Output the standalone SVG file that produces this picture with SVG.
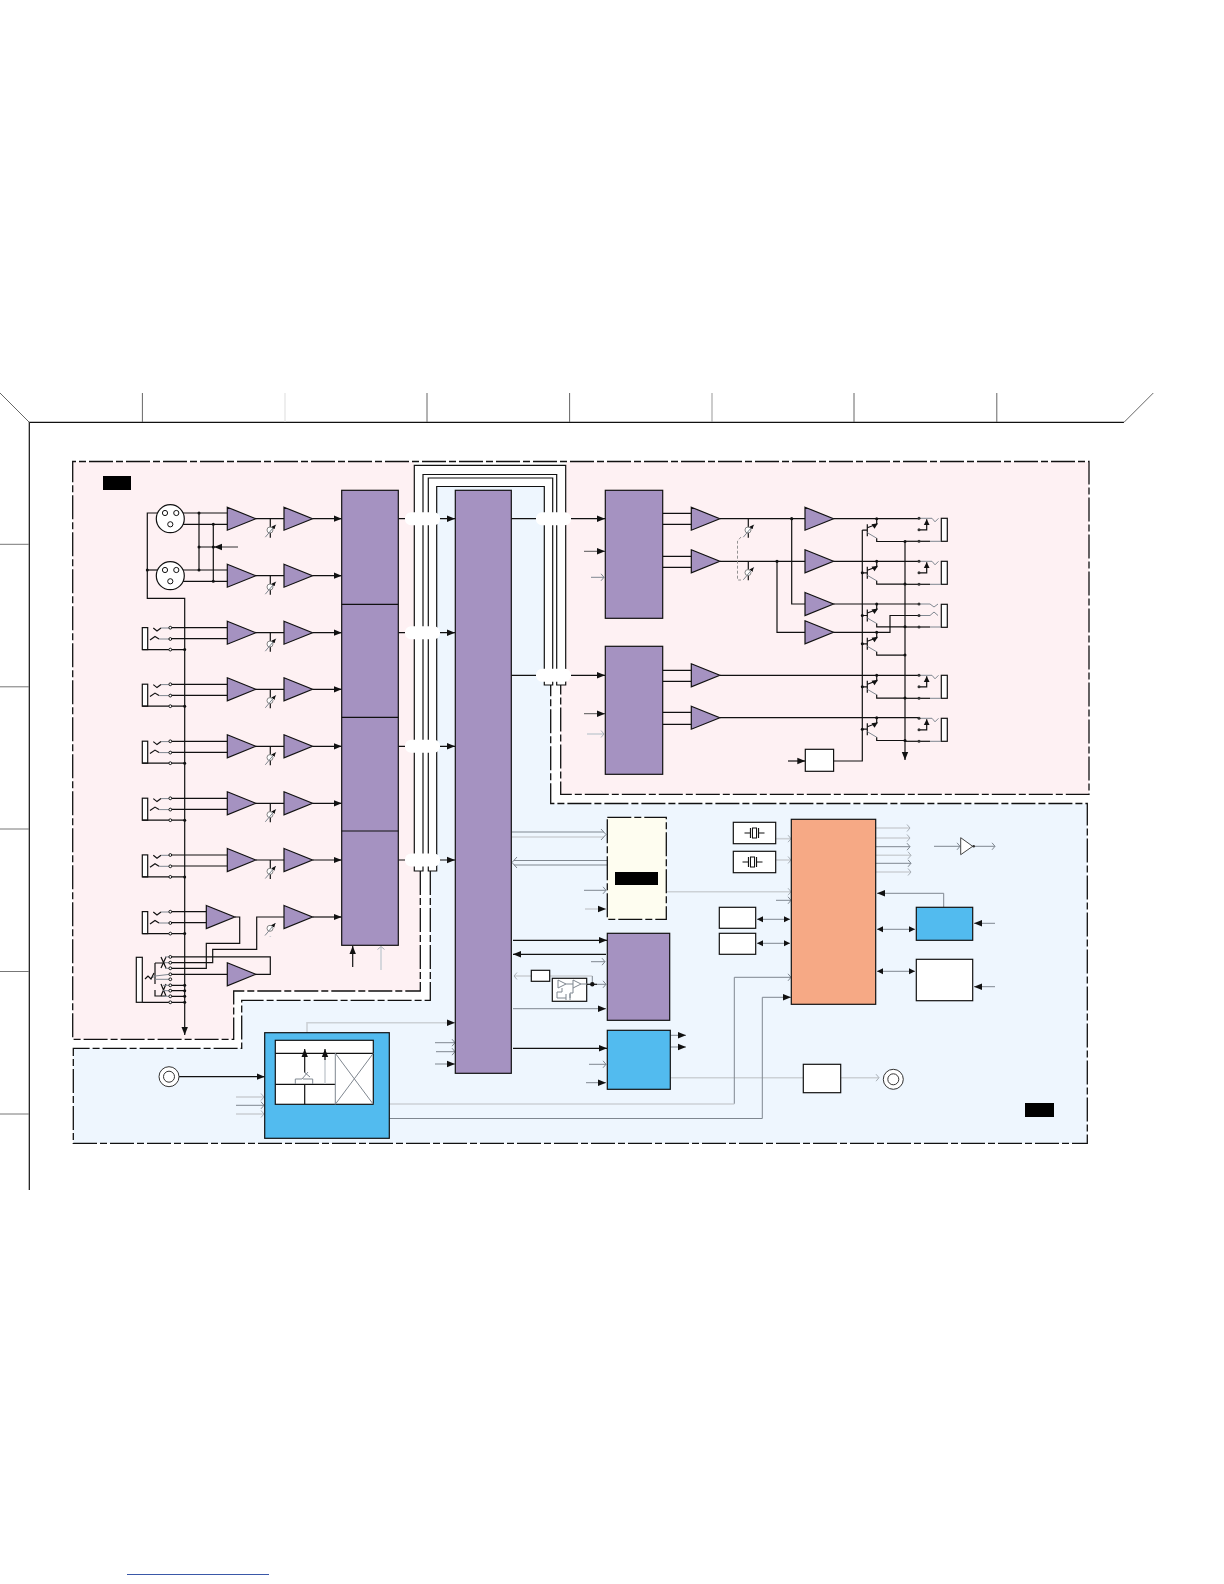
<svg xmlns="http://www.w3.org/2000/svg" xmlns:xlink="http://www.w3.org/1999/xlink" width="1224" height="1584" viewBox="0 0 1224 1584">
<style>
.w{fill:none;stroke:#111;stroke-width:1.2}
.g{fill:none;stroke:#7f8790;stroke-width:1}
.l{fill:none;stroke:#ccd1d6;stroke-width:1.6}
.d{fill:none;stroke:#111;stroke-width:1.3;stroke-dasharray:24 3 7 3}
.p{fill:#a592c1;stroke:#111;stroke-width:1.2}
.b{fill:#52bbef;stroke:#111;stroke-width:1.2}
.o{fill:#f6a985;stroke:#111;stroke-width:1.2}
.n{fill:#fff;stroke:#111;stroke-width:1.2}
.k{fill:#000}
.pin{fill:#fff;stroke:#111;stroke-width:1}
.gw{fill:#fff;stroke:#777;stroke-width:.9}
</style>
<defs>
<marker id="f" markerUnits="userSpaceOnUse" markerWidth="10" markerHeight="8" refX="8" refY="4" orient="auto"><path d="M0,.8 L8,4 L0,7.2 Z" fill="#111"/></marker>
<marker id="fs" markerUnits="userSpaceOnUse" markerWidth="8" markerHeight="8" refX="6" refY="4" orient="auto-start-reverse"><path d="M0,1 L6,4 L0,7 Z" fill="#111"/></marker>
<marker id="fp" markerUnits="userSpaceOnUse" markerWidth="6" markerHeight="6" refX="4.5" refY="3" orient="auto"><path d="M0,1 L4.5,3 L0,5 Z" fill="#111"/></marker>
<marker id="og" markerUnits="userSpaceOnUse" markerWidth="6" markerHeight="10" refX="4" refY="5" orient="auto-start-reverse"><path d="M1,1.5 L4,5 L1,8.5" fill="none" stroke="#7f8790"/></marker>
<marker id="ol" markerUnits="userSpaceOnUse" markerWidth="6" markerHeight="10" refX="4" refY="5" orient="auto-start-reverse"><path d="M1,1.5 L4,5 L1,8.5" fill="none" stroke="#a9b0b7"/></marker>
<polygon id="amp" class="p" points="0,-11.5 28.5,0 0,11.5"/>
<g id="pot"><path class="w" d="M0,0 V19" stroke-width="1"/><circle class="gw" cx="-.3" cy="11.3" r="3"/><path class="g" d="M-5,18.5 L5.5,6" marker-end="url(#fp)"/></g>
<g id="jack"><rect class="n" x="142.3" y="-5.4" width="5.4" height="22"/><path class="w" d="M142.3,16.6 H184.7"/><path class="w" d="M153.3,-5 L157,-2 L161,-5"/><path class="g" d="M161,-5 H170"/><path class="w" d="M150,7 L155,3.5 L159,6"/><path class="g" d="M159,6 H170"/><circle class="pin" cx="170.3" cy="-5.3" r="1.4"/><circle class="pin" cx="170.3" cy="6" r="1.4"/><circle class="pin" cx="170.3" cy="16.6" r="1.4"/><circle cx="184.7" cy="16.6" r="1.5" fill="#111"/></g>
<g id="ojack"><rect class="n" x="941.3" y="0" width="6" height="23"/><path class="w" d="M905,23 H930"/><path class="g" d="M930,23 H941"/><path class="g" d="M919,0 H932 L935,3.5 L938.5,0"/><path class="w" d="M919,11.5 H926.7 V1" marker-end="url(#fs)"/><circle cx="919" cy="0" r="1.5" fill="#333"/><circle cx="919" cy="11.5" r="1.5" fill="#333"/><circle cx="919" cy="23" r="1.5" fill="#333"/></g>
<g id="q"><circle cx="876.7" cy="0" r="1.5" fill="#111"/><path class="w" d="M876.7,0 V5.5 L867.3,9"/><path class="w" d="M867.3,5.5 V17.5 M862.3,11.5 H867.3"/><path class="g" d="M867.3,14 L876.7,19.5"/><path class="w" d="M876.7,19.5 V22.8 H905"/><polygon points="878,4.5 871.5,5.5 874.5,10" fill="#111"/><circle cx="905" cy="22.8" r="1.5" fill="#111"/></g>
<g id="xtal"><path class="w" d="M-10,0 H-4 M-4,-5 V5 M4,-5 V5 M4,0 H10"/><rect x="-2" y="-5" width="4" height="10" fill="#fff" stroke="#111"/></g>
<g id="bnc"><circle r="10" fill="#fff" stroke="#333"/><circle r="5.5" fill="#fff" stroke="#333"/></g>
<rect id="gap" x="0" y="-6.5" width="35" height="13" rx="6" fill="#fff"/>
</defs>

<g id="backgrounds">
<polygon fill="#fef1f3" points="73,462 414,462 414,871 420.3,871 420.3,991 233.7,991 233.7,1039.3 73,1039.3"/>
<polygon fill="#fef1f3" points="566,462 1089,462 1089,794.3 560.7,794.3 560.7,685 566,685"/>
<polygon fill="#eef6fe" points="437,487 544,487 544,685 550.7,685 550.7,803.5 1087.3,803.5 1087.3,1143.3 73.3,1143.3 73.3,1048.3 241.7,1048.3 241.7,1000.3 430.3,1000.3 430.3,871 437,871"/>
</g>

<g id="frame">
<path class="w" d="M29.3,1190 V422.3 H1124"/>
<path fill="none" stroke="#666" d="M0,393 L29.3,422.3 M1124,422.3 L1153.3,393 M142.4,393 V422 M427,393 V422 M569.6,393 V422 M854,393 V422 M996.8,393 V422"/>
<path fill="none" stroke="#ddd" d="M285,393 V422"/>
<path fill="none" stroke="#999" d="M712,393 V422"/>
<path fill="none" stroke="#777" d="M0,544.3 H29 M0,686.8 H29 M0,829 H29 M0,971.5 H29 M0,1114 H29"/>
<path fill="none" stroke="#3a58a8" d="M127,1574.5 H269"/>
</g>

<g id="boundaries">
<path class="d" d="M420.3,871 V991 H233.7 V1039.3 H72.7 V461.5 H1089 V794.3 H560.7 V685"/>
<path class="d" d="M430.3,871 V1000.3 H241.7 V1048.3 H73.3 V1143.3 H1087.3 V803.5 H550.7 V685"/>
<rect class="k" x="103" y="476" width="28" height="14"/>
<rect class="k" x="1025" y="1103" width="29" height="14"/>
</g>

<g id="connectors">
<!-- bus loops, then white gaps where the wires cross them -->
<path class="w" d="M414.3,871 V465.3 H565.7 V685 H556.7 V474.5 H423 V871 Z"/>
<path class="w" d="M428.3,871 V478 H552.7 V685 H544.3 V486.5 H436.7 V871 Z"/>
<use href="#gap" x="405" y="518.7"/><use href="#gap" x="405" y="632.7"/><use href="#gap" x="405" y="746.3"/><use href="#gap" x="405" y="860"/>
<use href="#gap" x="536" y="518.7"/><use href="#gap" x="536" y="675.3"/>
<path class="w" d="M398.3,518.7 H405 M440,518.7 H455" marker-end="url(#f)"/>
<path class="w" d="M398.3,632.7 H405 M440,632.7 H455" marker-end="url(#f)"/>
<path class="w" d="M398.3,746.3 H405 M440,746.3 H455" marker-end="url(#f)"/>
<path class="w" d="M398.3,860 H405 M440,860 H455" marker-end="url(#f)"/>
<path class="w" d="M511.3,518.7 H536 M571,518.7 H605" marker-end="url(#f)"/>
<path class="w" d="M511.3,675.3 H536 M571,675.3 H605" marker-end="url(#f)"/>

<!-- XLR wiring -->
<path class="w" d="M165,513 H147.3 V598.3 H184.7 V1035" marker-end="url(#f)"/>
<path class="w" d="M147.3,570 H160"/>
<path class="w" d="M176.3,513 H227.3 M170.3,524.3 H227.3 M180,570 H227.3 M170.3,581.3 H227.3"/>
<path class="w" d="M199,513 V570 M213.3,524.3 V581.3 M199,547 H213.3"/>
<path fill="none" stroke="#333" d="M238,547 H214" marker-end="url(#f)"/>
<g fill="#111"><circle cx="199" cy="513" r="1.5"/><circle cx="213.3" cy="524.3" r="1.5"/><circle cx="199" cy="570" r="1.5"/><circle cx="213.3" cy="581.3" r="1.5"/><circle cx="199" cy="547" r="1.5"/><circle cx="213.3" cy="547" r="1.5"/><circle cx="147.3" cy="570" r="1.5"/></g>

<!-- amp to ADC wires -->
<path class="w" d="M255.7,518.7 H284 M312.5,518.7 H341.7" marker-end="url(#f)"/>
<path class="w" d="M255.7,575.7 H284 M312.5,575.7 H341.7" marker-end="url(#f)"/>
<path class="w" d="M255.7,632.7 H284 M312.5,632.7 H341.7" marker-end="url(#f)"/>
<path class="w" d="M255.7,689.3 H284 M312.5,689.3 H341.7" marker-end="url(#f)"/>
<path class="w" d="M255.7,746.3 H284 M312.5,746.3 H341.7" marker-end="url(#f)"/>
<path class="w" d="M255.7,803.3 H284 M312.5,803.3 H341.7" marker-end="url(#f)"/>
<path class="w" d="M255.7,860 H284 M312.5,860 H341.7" marker-end="url(#f)"/>
<path class="w" d="M312.5,917 H341.7" marker-end="url(#f)"/>
<path class="w" d="M170.3,627.7 H227.3 M170.3,638.7 H227.3 M170.3,684.3 H227.3 M170.3,695.3 H227.3 M170.3,741.3 H227.3 M170.3,752.3 H227.3 M170.3,798.3 H227.3 M170.3,809.3 H227.3 M170.3,855 H227.3 M170.3,866 H227.3 M170.3,911.7 H206.3 M170.3,922.7 H206.3"/>
<!-- ch8 and switched jack routing -->
<path class="w" d="M235,917 H239.7 V943.3 H206.3 V968.3 H170.3"/>
<path class="w" d="M284,917 H256.7 V949.3 H212.7 V962.7 H170.3"/>
<path class="w" d="M170.3,956.9 H270.3 V974.3 H255.7"/>
<path class="w" d="M170.3,974.3 H227.3"/>
<path class="w" d="M170.3,985.3 H184.7 M170.3,990.7 H184.7 M170.3,996.3 H184.7 M142.3,1002.3 H184.7"/>
<path class="w" d="M352.7,967 V946" marker-end="url(#f)"/>
<path class="l" d="M381,970 V946.5" marker-end="url(#ol)"/>

<!-- DAC to output -->
<path class="w" d="M662.7,513.3 H691.3 M662.7,524.3 H691.3 M662.7,556.3 H691.3 M662.7,567.3 H691.3 M662.7,670.3 H691.3 M662.7,681.3 H691.3 M662.7,712.3 H691.3 M662.7,724.3 H691.3"/>
<path class="w" d="M720,518.7 H805 M720,561.3 H805 M791.7,518.7 V604 H805 M777,561.3 V632.3 H805"/>
<circle cx="791.7" cy="518.7" r="1.6" fill="#111"/><circle cx="777" cy="561.3" r="1.6" fill="#111"/>
<path class="w" d="M833.3,518.7 H919 M833.3,561.3 H919 M833.3,604 H919 M833.3,632.3 H890 V615.5 H919 M720,675.3 H919 M720,717.7 H919"/>
<path class="w" d="M905,541.3 V760" marker-end="url(#f)"/>
<path class="w" d="M833.6,761 H862.3 V530"/>
<path class="w" d="M788,761 H805.3" marker-end="url(#f)"/>
<path d="M741,537 L737.5,541 V580 H741" fill="none" stroke="#888" stroke-width=".9" stroke-dasharray="3 2"/>
<path fill="none" stroke="#555" d="M584,551.3 H605" marker-end="url(#f)"/>
<path class="g" d="M591,577.3 H604" marker-end="url(#og)"/>
<path fill="none" stroke="#555" d="M584,713.7 H605" marker-end="url(#f)"/>
<path class="l" d="M587,734 H604" marker-end="url(#ol)"/>

<!-- main DSP peripherals -->
<path class="g" d="M511.3,832 H604"/><path class="l" d="M511.3,837 H604"/>
<path d="M601,829 L606,834.5 L601,840" fill="none" stroke="#7f8790"/>
<path class="g" d="M607,860.5 H514"/><path class="g" d="M607,865 H514"/>
<path d="M517,857 L512,862.5 L517,868" fill="none" stroke="#7f8790"/>
<path class="g" d="M584,890.3 H606" marker-end="url(#og)"/>
<path class="l" d="M585,909 H606" marker-end="url(#f)"/>
<path class="w" d="M513,940.3 H607" marker-end="url(#f)"/>
<path class="w" d="M606,954.3 H513" marker-end="url(#f)"/>
<path class="g" d="M591,961.7 H605" marker-end="url(#og)"/>
<path class="l" d="M531,976 H514" marker-end="url(#ol)"/>
<path class="l" d="M550,976 H592.3"/><path class="g" d="M592.3,976 V984.3"/>
<path class="w" d="M587,984.3 H597"/><path class="g" d="M597,984.3 H606" marker-end="url(#og)"/>
<circle cx="592.3" cy="984.3" r="2.2" fill="#111"/>
<path class="g" d="M513,1008.7 H606" marker-end="url(#f)"/>
<path class="w" d="M513,1048.3 H607" marker-end="url(#f)"/>
<path class="g" d="M589,1064.3 H606" marker-end="url(#og)"/>
<path class="g" d="M586,1082.7 H606" marker-end="url(#f)"/>
<path class="g" d="M670.3,1035.3 H686" marker-end="url(#f)"/>
<path class="g" d="M670.3,1047 H686" marker-end="url(#f)"/>
<path class="l" d="M670.3,1077.7 H803.3"/>
<path class="l" d="M840.7,1077.7 H879" marker-end="url(#ol)"/>

<!-- orange block -->
<path class="l" d="M775.7,838.7 H791" marker-end="url(#ol)"/>
<path class="l" d="M775.7,860 H791" marker-end="url(#ol)"/>
<path class="l" d="M665,891.7 H791" marker-end="url(#ol)"/>
<path class="g" d="M776,900.3 H791" marker-end="url(#og)"/>
<path class="g" d="M757,919.3 H790" marker-start="url(#fs)" marker-end="url(#fs)"/>
<path class="g" d="M757,943.3 H790" marker-start="url(#fs)" marker-end="url(#fs)"/>
<path class="l" d="M875.7,828 H910" marker-end="url(#ol)"/>
<path class="l" d="M875.7,838 H910" marker-end="url(#ol)"/>
<path class="g" d="M875.7,846.7 H910" marker-end="url(#og)"/>
<path class="l" d="M875.7,855.3 H911" marker-end="url(#ol)"/>
<path class="g" d="M875.7,863.3 H911" marker-end="url(#og)"/>
<path class="l" d="M875.7,872 H911" marker-end="url(#ol)"/>
<path class="g" d="M934,846.3 H960" marker-end="url(#og)"/>
<path class="g" d="M975,846.3 H995" marker-end="url(#og)"/>
<path class="g" d="M943.7,907.3 V893.3 H877" marker-end="url(#f)"/>
<path class="g" d="M877,929.3 H915" marker-start="url(#fs)" marker-end="url(#fs)"/>
<path class="g" d="M877,971.3 H915" marker-start="url(#fs)" marker-end="url(#fs)"/>
<path class="g" d="M995,923.3 H974" marker-end="url(#f)"/>
<path class="g" d="M995,986.7 H974" marker-end="url(#f)"/>
<path class="l" d="M389.3,1104 H734.3"/><path class="g" d="M734.3,1103.7 V977.3 H791" marker-end="url(#og)"/>
<path class="g" d="M389.3,1118.5 H762.3 V997.3 H791" marker-end="url(#f)"/>

<!-- clock block -->
<path class="w" d="M179,1076.7 H264.7" marker-end="url(#f)"/>
<path class="l" d="M236,1097 H264" marker-end="url(#ol)"/>
<path class="g" d="M236,1105.3 H264" marker-end="url(#og)"/>
<path class="l" d="M236,1114 H264" marker-end="url(#ol)"/>
<path class="l" d="M307,1040 V1022.7 H455"/>
<path class="l" d="M445,1022.7 H455" marker-end="url(#f)"/>
<path class="g" d="M435,1042.7 H455" marker-end="url(#og)"/>
<path class="g" d="M436,1051.7 H455" marker-end="url(#og)"/>
<path class="g" d="M435,1064 H455" marker-end="url(#f)"/>
</g>

<g id="mic-in-1"><circle class="n" cx="170.3" cy="518.7" r="14"/><circle class="pin" cx="165" cy="513" r="2.6"/><circle class="pin" cx="176.3" cy="513" r="2.6"/><circle class="pin" cx="170.3" cy="524.3" r="2.6"/></g>
<g id="mic-in-2"><circle class="n" cx="170.3" cy="575.7" r="14"/><circle class="pin" cx="165" cy="570" r="2.6"/><circle class="pin" cx="176.3" cy="570" r="2.6"/><circle class="pin" cx="170.3" cy="581.3" r="2.6"/></g>
<g id="jack-3"><use href="#jack" y="633"/></g>
<g id="jack-4"><use href="#jack" y="689.6"/></g>
<g id="jack-5"><use href="#jack" y="746.6"/></g>
<g id="jack-6"><use href="#jack" y="803.6"/></g>
<g id="jack-7"><use href="#jack" y="860.3"/></g>
<g id="jack-8"><use href="#jack" y="917"/></g>
<g id="jack-multi">
<rect class="n" x="136.3" y="957.3" width="6" height="45"/>
<path class="w" d="M161,957 L166,968 M166,957 L161,968 M161,984 L166,996 M166,984 L161,996"/>
<path class="g" d="M165,956.9 H170 M165,962.7 H170 M165,968.3 H170"/>
<path class="w" d="M155,963 H165 M155,963 V984 M155,990 V996 H165"/>
<path class="g" d="M150,979 L155,976 L170,974.3 M155,979.3 H170 M163,985.3 H170 M163,990.7 H170 M163,996.3 H170"/>
<path class="w" d="M145,979 L148,976 L151,979 L154,973"/>
<circle class="pin" cx="170.3" cy="956.9" r="1.4"/><circle class="pin" cx="170.3" cy="962.7" r="1.4"/><circle class="pin" cx="170.3" cy="968.3" r="1.4"/><circle class="pin" cx="170.3" cy="974.3" r="1.4"/><circle class="pin" cx="170.3" cy="979.3" r="1.4"/><circle class="pin" cx="170.3" cy="985.3" r="1.4"/><circle class="pin" cx="170.3" cy="990.7" r="1.4"/><circle class="pin" cx="170.3" cy="996.3" r="1.4"/><circle class="pin" cx="170.3" cy="1002.3" r="1.4"/>
<g fill="#111"><circle cx="184.7" cy="985.3" r="1.5"/><circle cx="184.7" cy="990.7" r="1.5"/><circle cx="184.7" cy="996.3" r="1.5"/><circle cx="184.7" cy="1002.3" r="1.5"/></g>
</g>

<g id="input-amps">
<use href="#amp" x="227.3" y="518.7"/><use href="#amp" x="284" y="518.7"/><use href="#pot" x="270.3" y="518.7"/>
<use href="#amp" x="227.3" y="575.7"/><use href="#amp" x="284" y="575.7"/><use href="#pot" x="270.3" y="575.7"/>
<use href="#amp" x="227.3" y="632.7"/><use href="#amp" x="284" y="632.7"/><use href="#pot" x="270.3" y="632.7"/>
<use href="#amp" x="227.3" y="689.3"/><use href="#amp" x="284" y="689.3"/><use href="#pot" x="270.3" y="689.3"/>
<use href="#amp" x="227.3" y="746.3"/><use href="#amp" x="284" y="746.3"/><use href="#pot" x="270.3" y="746.3"/>
<use href="#amp" x="227.3" y="803.3"/><use href="#amp" x="284" y="803.3"/><use href="#pot" x="270.3" y="803.3"/>
<use href="#amp" x="227.3" y="860"/><use href="#amp" x="284" y="860"/><use href="#pot" x="270.3" y="860"/>
<use href="#amp" x="206.3" y="917"/><use href="#amp" x="284" y="917"/>
<path class="l" d="M270.3,936 V937"/><circle class="gw" cx="270" cy="928.3" r="3"/><path class="g" d="M265,935.5 L275.5,923" marker-end="url(#fp)"/>
<use href="#amp" x="227.3" y="974.3"/>
</g>

<g id="output-amps">
<use href="#amp" x="691.3" y="518.7"/><use href="#amp" x="691.3" y="561.3"/><use href="#amp" x="691.3" y="675.3"/><use href="#amp" x="691.3" y="717.7"/>
<use href="#pot" x="748.3" y="518.7"/><use href="#pot" x="748.3" y="561.3"/>
<use href="#amp" x="805" y="518.7"/><use href="#amp" x="805" y="561.3"/><use href="#amp" x="805" y="604"/><use href="#amp" x="805" y="632.3"/>
</g>

<g id="output-switches">
<use href="#q" y="518.7"/><use href="#q" y="561.3"/><use href="#q" y="604"/><use href="#q" y="632.3"/><use href="#q" y="675.3"/><use href="#q" y="717.7"/>
<g fill="#111"><circle cx="862.3" cy="572.8" r="1.5"/><circle cx="862.3" cy="615.5" r="1.5"/><circle cx="862.3" cy="643.8" r="1.5"/><circle cx="862.3" cy="686.8" r="1.5"/><circle cx="862.3" cy="729.2" r="1.5"/></g>
</g>
<g id="out-jack-1"><use href="#ojack" y="518.3"/></g>
<g id="out-jack-2"><use href="#ojack" y="561.3"/></g>
<g id="out-jack-3"><rect class="n" x="941.3" y="604.3" width="6" height="23"/><path class="w" d="M905,627 H930"/><path class="g" d="M930,627 H941 M919,604 H930 L934,607 L938,604 M919,615.5 H930 L934,612 L938,615.5"/><circle cx="919" cy="604" r="1.5" fill="#333"/><circle cx="919" cy="615.5" r="1.5" fill="#333"/><circle cx="919" cy="627" r="1.5" fill="#333"/></g>
<g id="out-jack-4"><use href="#ojack" y="675.3"/></g>
<g id="out-jack-5"><use href="#ojack" y="718.3"/></g>

<g id="adc"><rect class="p" x="341.7" y="490.3" width="56.6" height="455"/><path class="w" d="M341.7,604.3 H398.3 M341.7,717.3 H398.3 M341.7,831 H398.3"/></g>
<g id="dsp"><rect class="p" x="455.3" y="490.3" width="56" height="583"/></g>
<g id="dac-a"><rect class="p" x="605.3" y="490.3" width="57.4" height="128"/></g>
<g id="dac-b"><rect class="p" x="605.3" y="646.3" width="57.4" height="128"/></g>
<g id="mute"><rect class="n" x="805.3" y="749.3" width="28.3" height="22"/></g>
<g id="memory"><path fill="#fefdf0" d="M607.3,817.3 H666.3 V919.3 H607.3 Z"/><path class="d" stroke-dasharray="10 3 3 3" d="M607.3,817.3 H666.3 V919.3 H607.3 Z"/><rect class="k" x="615" y="872" width="43" height="13"/></g>
<g id="codec-c"><rect class="p" x="607.3" y="933.3" width="62.4" height="87"/></g>
<g id="small-box"><rect class="n" x="531.3" y="970.3" width="18.4" height="11"/></g>
<g id="oscillator"><rect class="n" x="552.3" y="978.3" width="34.4" height="23"/>
<path class="g" d="M558,980 V988 L566,984 Z M573,980 V988 L581,984 Z M566,984 H573 M581,984 H587 M562,988 V992 H557 V998 H566 M573,988 V993 H570 V998 M566,994 V1000 M570,994 V1000"/></g>
<g id="blue-d"><rect class="b" x="607.3" y="1030.3" width="63" height="59"/></g>
<g id="cpu"><rect class="o" x="791.3" y="819.3" width="84.4" height="185"/></g>
<g id="xtal-1"><rect class="n" x="733.3" y="822.3" width="42.4" height="21.4"/><use href="#xtal" x="754.5" y="833"/></g>
<g id="xtal-2"><rect class="n" x="733.3" y="851.3" width="42.4" height="21.4"/><use href="#xtal" x="752.5" y="862"/></g>
<g id="mem-1"><rect class="n" x="719.3" y="907.3" width="36.4" height="21"/></g>
<g id="mem-2"><rect class="n" x="719.3" y="933.3" width="36.4" height="21"/></g>
<g id="inverter"><polygon points="960.7,837.7 972.7,846.3 960.7,854.7" fill="#fff" stroke="#444"/><circle cx="973.7" cy="846.3" r="1.3" fill="#333"/></g>
<g id="blue-right"><rect class="b" x="916.3" y="907.3" width="56.4" height="33"/></g>
<g id="white-right"><rect class="n" x="916.3" y="959.3" width="56.4" height="41.4"/></g>
<g id="driver"><rect class="n" x="803.3" y="1064.3" width="37.4" height="28.4"/></g>
<g id="bnc-out"><use href="#bnc" x="893.3" y="1079.3"/></g>
<g id="bnc-in"><use href="#bnc" x="169" y="1076.7"/></g>
<g id="clock">
<rect class="b" x="264.7" y="1032.7" width="124.6" height="105.6"/>
<rect class="n" x="275.3" y="1040.3" width="98" height="64"/>
<path class="w" d="M275.3,1053.3 H373.3 M275.3,1084.3 H335.3 M304.7,1084.3 V1104.3"/>
<path class="g" d="M335.3,1053.3 V1104.3 M335.3,1053.3 L373.3,1104.3 M373.3,1053.3 L335.3,1104.3"/>
<path class="l" d="M325,1084 V1055"/>
<path class="w" d="M304.7,1073 V1049" marker-end="url(#f)"/>
<path class="w" d="M325,1060 V1049" marker-end="url(#f)"/>
<path class="g" d="M295.3,1084 V1079 H302 L308,1072 M303,1079 H312.7 V1084 M304,1072 L310,1077"/>
</g>
</svg>
